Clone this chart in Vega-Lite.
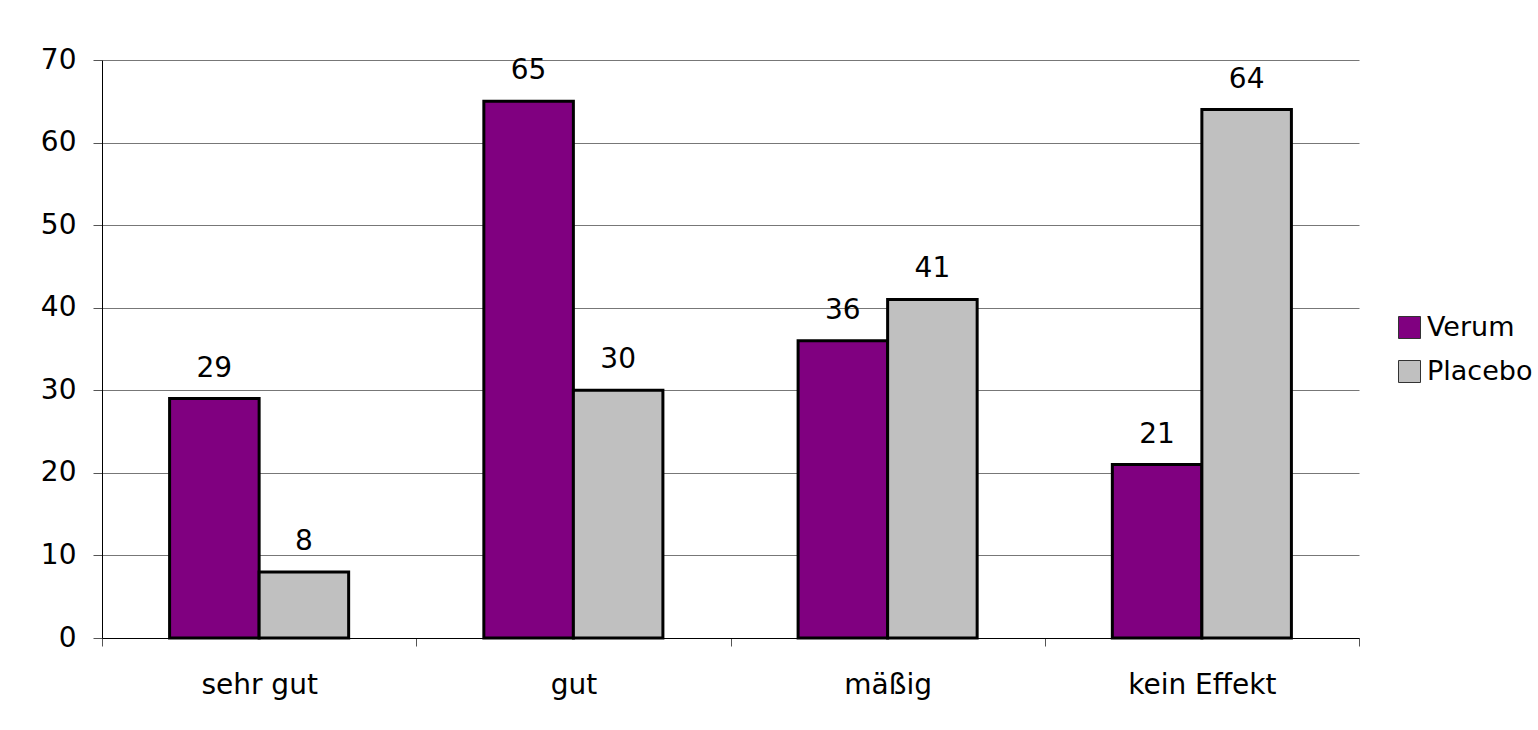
{
  "$schema": "https://vega.github.io/schema/vega-lite/v6.json",
  "width": 1257,
  "height": 578,
  "autosize": {"type": "none"},
  "padding": {"left": 102, "top": 60, "right": 179, "bottom": 92},
  "background": "white",
  "config": {
    "font": "DejaVu Sans",
    "view": {"stroke": null},
    "axis": {"labelFont": "DejaVu Sans", "labelFontSize": 28, "labelColor": "black"},
    "legend": {"labelFont": "DejaVu Sans", "labelFontSize": 27, "labelColor": "black"}
  },
  "data": {
    "values": [
      {"Kategorie": "sehr gut", "Gruppe": "Verum", "Anzahl": 29},
      {"Kategorie": "sehr gut", "Gruppe": "Placebo", "Anzahl": 8},
      {"Kategorie": "gut", "Gruppe": "Verum", "Anzahl": 65},
      {"Kategorie": "gut", "Gruppe": "Placebo", "Anzahl": 30},
      {"Kategorie": "mäßig", "Gruppe": "Verum", "Anzahl": 36},
      {"Kategorie": "mäßig", "Gruppe": "Placebo", "Anzahl": 41},
      {"Kategorie": "kein Effekt", "Gruppe": "Verum", "Anzahl": 21},
      {"Kategorie": "kein Effekt", "Gruppe": "Placebo", "Anzahl": 64}
    ]
  },
  "encoding": {
    "x": {
      "field": "Kategorie",
      "type": "nominal",
      "sort": ["sehr gut", "gut", "mäßig", "kein Effekt"],
      "scale": {"paddingInner": 0, "paddingOuter": 0},
      "axis": {
        "title": null,
        "labelAngle": 0,
        "tickBand": "extent",
        "tickSize": 8,
        "tickColor": "#555555",
        "domainColor": "black",
        "labelPadding": 25,
        "grid": false
      }
    },
    "xOffset": {
      "field": "Gruppe",
      "type": "nominal",
      "sort": ["Verum", "Placebo"],
      "scale": {"paddingInner": 0, "paddingOuter": 0.755}
    },
    "y": {
      "field": "Anzahl",
      "type": "quantitative",
      "scale": {"domain": [0, 70], "nice": false},
      "axis": {
        "title": null,
        "values": [0, 10, 20, 30, 40, 50, 60, 70],
        "tickSize": 9,
        "tickColor": "#555555",
        "domainColor": "black",
        "gridColor": "#777777",
        "gridWidth": 1,
        "labelPadding": 17
      }
    }
  },
  "layer": [
    {
      "mark": {"type": "bar", "stroke": "black", "strokeWidth": 3},
      "encoding": {
        "color": {
          "field": "Gruppe",
          "type": "nominal",
          "sort": ["Verum", "Placebo"],
          "scale": {"domain": ["Verum", "Placebo"], "range": ["#800080", "#C0C0C0"]},
          "legend": {
            "title": null,
            "orient": "none",
            "legendX": 1294,
            "legendY": 254,
            "symbolType": "square",
            "symbolSize": 484,
            "symbolStrokeColor": "#333333",
            "symbolStrokeWidth": 1,
            "symbolOpacity": 1,
            "labelOffset": 4,
            "rowPadding": 16,
            "padding": 0
          }
        }
      }
    },
    {
      "mark": {"type": "text", "baseline": "alphabetic", "dy": -22, "fontSize": 28, "color": "black"},
      "encoding": {"text": {"field": "Anzahl", "type": "quantitative"}}
    }
  ]
}
